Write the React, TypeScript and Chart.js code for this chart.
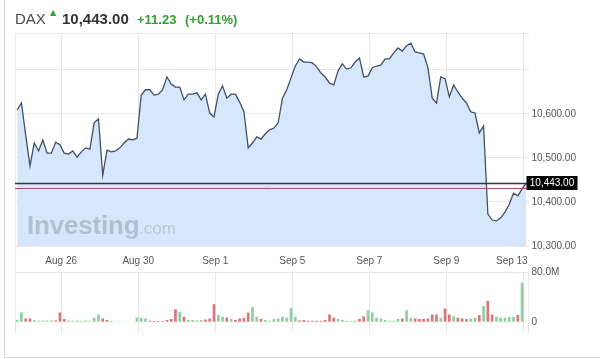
import { useEffect, useRef } from 'react';
import { Chart, registerables } from 'chart.js';

Chart.register(...registerables);

// Hourly DAX closes (index 0 .. 119)
const prices = [
  10609, 10625, 10552, 10482, 10534, 10516, 10541, 10511, 10511, 10536,
  10530, 10511, 10509, 10516, 10502, 10514, 10523, 10520, 10580, 10589,
  10461, 10518, 10514, 10516, 10523, 10534, 10543, 10541, 10545, 10643,
  10655, 10655, 10643, 10645, 10655, 10684, 10668, 10661, 10661, 10632,
  10645, 10645, 10648, 10632, 10645, 10602, 10593, 10645, 10664, 10636,
  10645, 10645, 10627, 10605, 10523, 10534, 10548, 10543, 10555, 10564,
  10568, 10580, 10636, 10655, 10682, 10709, 10725, 10718, 10718, 10716,
  10707, 10693, 10684, 10670, 10666, 10698, 10714, 10702, 10705, 10718,
  10727, 10684, 10686, 10705, 10709, 10711, 10725, 10725, 10739, 10750,
  10743, 10755, 10761, 10741, 10739, 10736, 10705, 10636, 10625, 10684,
  10680, 10639, 10666, 10650, 10636, 10625, 10605, 10602, 10557, 10573,
  10373, 10359, 10357, 10364, 10377, 10395, 10420, 10414, 10430, 10443,
];

// Volume in millions, one bar per hour
const volumesM = [
  3.7, 15.7, 6.3, 6.3, 3.7, 2.5, 2.5, 3, 3, 3,
  15.7, 5.2, 3, 2.5, 3, 2, 3, 2.5, 7.3, 12.5,
  6.3, 3.7, 2.5, 1.2, 1.2, 1.2, 1.5, 1.5, 7.8, 7.3,
  6.3, 2.6, 2.1, 2.1, 2.1, 3.7, 5.2, 21, 16.7, 8.9,
  3.7, 3.7, 3.1, 3.7, 4.7, 6.3, 28.8, 11.5, 8.9, 7.8,
  5.2, 3.7, 6.3, 7.3, 15.7, 24.6, 8.9, 5.2, 3.7, 2.6,
  5.2, 6.3, 8.9, 7.3, 23, 8.9, 3, 3.7, 2.6, 2.6,
  2.6, 2.6, 3.7, 12.5, 7.3, 5.2, 3.7, 2.1, 2.1, 2.6,
  5.2, 9.9, 19.4, 15.7, 7.3, 6.3, 3.7, 2.6, 2.6, 5.2,
  6.3, 19.4, 7.3, 6.3, 5.2, 5.2, 6.3, 12.5, 12.5, 7.3,
  22, 12.5, 9.9, 7.3, 6.3, 5.2, 6.3, 7.3, 11.5, 26,
  34.5, 12.5, 8.9, 7.3, 7.3, 8.4, 8.4, 11.5, 63,
];

// G = up bar, R = down bar
const volumeDir =
  'GGRRGGGGGR' + 'RRGGGGGGGG' + 'RRGGGGGGGG' + 'GRRRRRRRGR' + 'GGGGRRRGGR' +
  'GRRRRGGRGG' + 'GGGGGGRRRR' + 'RRRRRGGGGG' + 'RRGGGGGGGG' + 'RGGRRRRRRG' +
  'RRGRRRGGRG' + 'RRGGGGGRG';

// Date labels and where they sit on the hourly index axis
const dateLabels = ['Aug 26', 'Aug 30', 'Sep 1', 'Sep 5', 'Sep 7', 'Sep 9', 'Sep 13'];
const dateLabelIndex = [10.3, 28.3, 46.3, 64.3, 82.3, 100.3, 115.6];
const dayGridIndex = [10.3, 28.3, 46.3, 64.3, 82.3, 100.3, 118.3];

const priceTicks = [10300, 10400, 10500, 10600, 10700];
const priceMin = 10300;
const priceMax = 10784;
const volumeTicksM = [0, 80];

const symbolName = 'DAX';
const changeAbs = 11.23;
const changePct = 0.11;
const lastPrice = prices[prices.length - 1];
const prevClose = lastPrice - changeAbs;

const FONT = '"Liberation Sans", Arial, Helvetica, sans-serif';
const GRID = '#e7e7e7';
const GREEN_TXT = '#33a033';

const fmt2 = (v: number) =>
  v.toLocaleString('en-US', { minimumFractionDigits: 2, maximumFractionDigits: 2 });

export default function App() {
  const mainRef = useRef<HTMLCanvasElement | null>(null);
  const volRef = useRef<HTMLCanvasElement | null>(null);

  useEffect(() => {
    document.body.style.margin = '0';
    Chart.defaults.font.family = FONT;

    const xMin = -0.5;
    const xMax = prices.length - 0.5;

    type TickDef = { value: number; label: string; grid: boolean };
    const xDefs: TickDef[] = [{ value: xMin, label: '', grid: true }];
    dayGridIndex.forEach((g, k) => {
      const labelIdx = dateLabelIndex.indexOf(g);
      if (labelIdx >= 0) {
        xDefs.push({ value: g, label: dateLabels[labelIdx], grid: true });
      } else {
        xDefs.push({ value: g, label: '', grid: true });
      }
      void k;
    });
    dateLabelIndex.forEach((p, k) => {
      if (dayGridIndex.indexOf(p) < 0) xDefs.push({ value: p, label: dateLabels[k], grid: false });
    });
    xDefs.sort((a, b) => a.value - b.value);

    const yTickVals = [...priceTicks, priceMax];

    const priceLines = {
      id: 'priceLines',
      afterDatasetsDraw(chart: any) {
        const { ctx, chartArea, scales } = chart;
        const yPrev = Math.round(scales.y.getPixelForValue(prevClose)) + 0.5;
        const yLast = Math.round(scales.y.getPixelForValue(lastPrice)) + 0.5;
        ctx.save();
        ctx.lineWidth = 1;
        ctx.strokeStyle = '#b34a55';
        ctx.beginPath();
        ctx.moveTo(chartArea.left, yPrev);
        ctx.lineTo(chartArea.right, yPrev);
        ctx.stroke();
        ctx.lineWidth = 1.4;
        ctx.strokeStyle = '#2c3946';
        ctx.beginPath();
        ctx.moveTo(chartArea.left, yLast);
        ctx.lineTo(chartArea.right, yLast);
        ctx.stroke();
        ctx.restore();
      },
      afterDraw(chart: any) {
        const { ctx, chartArea, scales } = chart;
        const yLast = scales.y.getPixelForValue(lastPrice);
        const bx = chartArea.right - 2;
        const bw = 51;
        const bh = 14;
        ctx.save();
        ctx.fillStyle = '#000';
        ctx.fillRect(bx, Math.round(yLast - bh / 2), bw, bh);
        ctx.fillStyle = '#fff';
        ctx.font = `10px ${FONT}`;
        ctx.textAlign = 'center';
        ctx.textBaseline = 'middle';
        ctx.fillText(fmt2(lastPrice), bx + bw / 2, Math.round(yLast) + 0.5);
        ctx.restore();
      },
    };

    const main = new Chart(mainRef.current as HTMLCanvasElement, {
      type: 'line',
      data: {
        datasets: [
          {
            data: prices.map((v, i) => ({ x: i, y: v })),
            borderColor: '#415166',
            borderWidth: 1.3,
            backgroundColor: '#d6e7fb',
            fill: 'start',
            pointRadius: 0,
            tension: 0,
          },
        ],
      },
      options: {
        responsive: false,
        animation: false,
        events: [],
        layout: { padding: { left: 15, top: 33, right: 0, bottom: 0 } },
        plugins: { legend: { display: false }, tooltip: { enabled: false } },
        scales: {
          x: {
            type: 'linear',
            min: xMin,
            max: xMax,
            offset: false,
            border: { display: false },
            grid: {
              offset: false,
              drawTicks: false,
              color: (c: any) => (xDefs[c.index] && xDefs[c.index].grid ? GRID : 'rgba(0,0,0,0)'),
            },
            afterBuildTicks: (s: any) => {
              s.ticks = xDefs.map((d) => ({ value: d.value }));
            },
            afterFit: (s: any) => {
              s.height = 26;
            },
            ticks: {
              autoSkip: false,
              maxRotation: 0,
              minRotation: 0,
              padding: 9,
              color: '#555',
              font: { size: 10, family: FONT },
              callback: (_v: any, i: number) => (xDefs[i] ? xDefs[i].label : ''),
            },
          },
          y: {
            position: 'right',
            min: priceMin,
            max: priceMax,
            border: { display: false },
            grid: { drawTicks: false, color: GRID },
            afterBuildTicks: (s: any) => {
              s.ticks = yTickVals.map((v) => ({ value: v }));
            },
            afterFit: (s: any) => {
              s.width = 71.5;
            },
            ticks: {
              padding: 3,
              color: '#555',
              font: { size: 10, family: FONT },
              callback: (v: any) => (v <= 10600 ? fmt2(Number(v)) : ''),
            },
          },
        },
      },
      plugins: [priceLines],
    } as any);

    const volGridDefs = [xMin, ...dayGridIndex, xMax];

    const vol = new Chart(volRef.current as HTMLCanvasElement, {
      type: 'bar',
      data: {
        datasets: [
          {
            data: volumesM.map((v, i) => ({ x: i, y: v * 1e6 })),
            backgroundColor: volumeDir.split('').map((c) => (c === 'G' ? '#8fd0a2' : '#d7787a')),
            borderWidth: 0,
            barPercentage: 0.63,
            categoryPercentage: 1,
          },
        ],
      },
      options: {
        responsive: false,
        animation: false,
        events: [],
        layout: { padding: { left: 15, top: 10, right: 0, bottom: 7 } },
        plugins: { legend: { display: false }, tooltip: { enabled: false } },
        scales: {
          x: {
            type: 'linear',
            min: xMin,
            max: xMax,
            offset: false,
            border: { display: false },
            grid: { offset: false, drawTicks: false, color: GRID },
            afterBuildTicks: (s: any) => {
              s.ticks = volGridDefs.map((v) => ({ value: v }));
            },
            afterFit: (s: any) => {
              s.height = 0;
            },
            ticks: { display: false },
          },
          y: {
            position: 'right',
            min: -16.9e6,
            max: 80e6,
            border: { display: false },
            grid: {
              drawTicks: false,
              color: (c: any) => (c.tick && c.tick.value === 80e6 ? GRID : 'rgba(0,0,0,0)'),
            },
            afterBuildTicks: (s: any) => {
              s.ticks = volumeTicksM.map((v) => ({ value: v * 1e6 }));
            },
            afterFit: (s: any) => {
              s.width = 71.5;
            },
            ticks: {
              padding: 3,
              color: '#555',
              font: { size: 10, family: FONT },
              callback: (v: any) => (Number(v) === 0 ? '0' : (Number(v) / 1e6).toFixed(1) + 'M'),
            },
          },
        },
      },
    } as any);

    return () => {
      main.destroy();
      vol.destroy();
    };
  }, []);

  return (
    <div
      style={{
        position: 'fixed',
        left: 0,
        top: 0,
        width: 600,
        height: 359,
        overflow: 'hidden',
        background: '#fff',
        fontFamily: FONT,
      }}
    >
      <div
        style={{
          position: 'absolute',
          left: 4,
          top: 0,
          width: 600,
          height: 358,
          borderLeft: '1px solid #d4d4d4',
          borderBottom: '1px solid #d4d4d4',
          boxSizing: 'border-box',
        }}
      />
      <div style={{ position: 'absolute', left: 15, top: 246, width: 1, height: 27, background: GRID }} />
      <canvas ref={mainRef} width={600} height={272} style={{ position: 'absolute', left: 0, top: 0, width: 600, height: 272 }} />
      <canvas ref={volRef} width={600} height={80} style={{ position: 'absolute', left: 0, top: 262, width: 600, height: 80 }} />

      <span style={{ position: 'absolute', left: 15, top: 10, fontSize: 15, lineHeight: 'normal', color: '#4a4a4a', whiteSpace: 'nowrap' }}>
        {symbolName}
      </span>
      <span style={{ position: 'absolute', left: 50, top: 8, fontSize: 8, lineHeight: 'normal', color: GREEN_TXT, fontFamily: '"DejaVu Sans", sans-serif' }}>
        ▲
      </span>
      <span style={{ position: 'absolute', left: 62, top: 10, fontSize: 15, fontWeight: 'bold', lineHeight: 'normal', color: '#333', whiteSpace: 'nowrap' }}>
        {fmt2(lastPrice)}
      </span>
      <span style={{ position: 'absolute', left: 137, top: 12, fontSize: 13, fontWeight: 'bold', lineHeight: 'normal', color: GREEN_TXT, whiteSpace: 'nowrap' }}>
        {'+' + changeAbs.toFixed(2)}
      </span>
      <span style={{ position: 'absolute', left: 185, top: 12, fontSize: 13, fontWeight: 'bold', lineHeight: 'normal', color: GREEN_TXT, whiteSpace: 'nowrap' }}>
        {'(+' + changePct.toFixed(2) + '%)'}
      </span>

      <span style={{ position: 'absolute', left: 27, top: 212, fontSize: 26, fontWeight: 'bold', lineHeight: 1, color: 'rgba(115,128,145,0.38)', whiteSpace: 'nowrap', letterSpacing: -0.2 }}>
        Investing
      </span>
      <span style={{ position: 'absolute', left: 139, top: 220, fontSize: 17, lineHeight: 1, color: 'rgba(115,128,145,0.28)', whiteSpace: 'nowrap' }}>
        .com
      </span>
    </div>
  );
}
